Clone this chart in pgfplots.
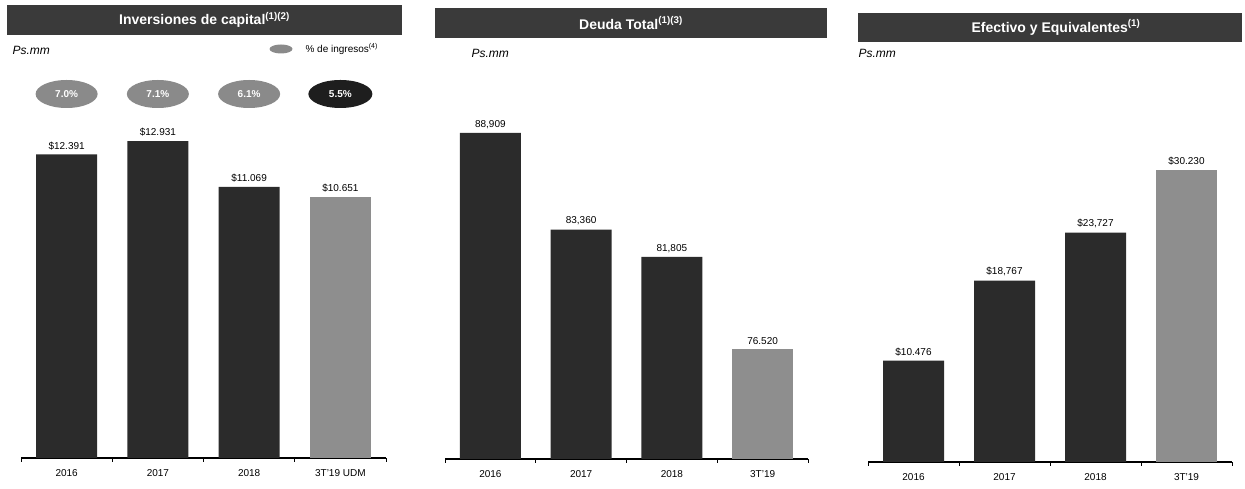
\documentclass[border=0pt]{standalone}
\usepackage{pgfplots}
\pgfplotsset{compat=1.18}
\usepackage{fontspec}
\setmainfont{Liberation Sans}
\usetikzlibrary{shapes.geometric}
\definecolor{bardark}{HTML}{2B2B2B}
\definecolor{barlight}{HTML}{8E8E8E}
\definecolor{titlebg}{HTML}{3A3A3A}
\definecolor{ellgray}{HTML}{8A8A8A}
\definecolor{ellblack}{HTML}{1E1E1E}

\pgfplotsset{
  panel/.style={
    scale only axis, anchor=south west,
    axis x line=bottom, axis y line=none,
    axis line style={-, black, line width=1.2pt},
    xmin=-0.5, xmax=3.5,
    xtick={0,1,2,3}, major tick length=0pt,
    extra x ticks={-0.5,0.5,1.5,2.5,3.5}, extra x tick labels={},
    extra x tick style={major tick length=4pt, tick align=outside, tick style={black, line width=1pt}},
    xticklabel style={font=\fontsize{10}{12}\selectfont, yshift=-8pt},
    ytick=\empty,
  },
  barplot/.style={
    ybar, bar width=61pt, bar shift=0pt, draw=none, fill=#1,
    nodes near coords, point meta=explicit symbolic,
    every node near coord/.append style={font=\fontsize{10}{12}\selectfont, black, anchor=south, yshift=1pt},
  },
}

\begin{document}
\begin{tikzpicture}[x=1pt,y=1pt]
\useasboundingbox (0,0) rectangle (1245,489);

% ---------- Panel 1: Inversiones de capital ----------
\fill[titlebg] (7,454) rectangle (402,484);
\node[text=white, font=\fontsize{14}{16}\selectfont\bfseries] at (204.5,469) {Inversiones de capital\textsuperscript{(1)(2)}};
\node[anchor=west, font=\fontsize{12}{14}\selectfont\itshape] at (9,439) {Ps.mm};
\node[ellipse, fill=ellgray, minimum width=23pt, minimum height=9pt, inner sep=0pt] at (281,440) {};
\node[anchor=west, font=\fontsize{10}{12}\selectfont] at (302,440) {\% de ingresos\textsuperscript{(4)}};

\begin{axis}[panel, at={(21pt,31pt)}, width=365pt, height=380pt,
  ymin=0, ymax=15510, clip=false,
  xticklabels={2016,2017,2018,3T'19 UDM}]
  \addplot[barplot=bardark] coordinates {(0,12391) [\$12.391] (1,12931) [\$12.931] (2,11069) [\$11.069]};
  \addplot[barplot=barlight] coordinates {(3,10651) [\$10.651]};
  \addplot[draw=none, mark=none, nodes near coords, point meta=explicit symbolic,
    every node near coord/.append style={ellipse, fill=ellgray, text=white, anchor=center,
      minimum width=62pt, minimum height=28pt, inner sep=0pt, font=\fontsize{10}{12}\selectfont\bfseries}]
    coordinates {(0,14857) [7.0\%] (1,14857) [7.1\%] (2,14857) [6.1\%]};
  \addplot[draw=none, mark=none, nodes near coords, point meta=explicit symbolic,
    every node near coord/.append style={ellipse, fill=ellblack, text=white, anchor=center,
      minimum width=64pt, minimum height=28pt, inner sep=0pt, font=\fontsize{10}{12}\selectfont\bfseries}]
    coordinates {(3,14857) [5.5\%]};
\end{axis}

% ---------- Panel 2: Deuda Total ----------
\fill[titlebg] (435,451) rectangle (827,481);
\node[text=white, font=\fontsize{14}{16}\selectfont\bfseries] at (631,466) {Deuda Total\textsuperscript{(1)(3)}};
\node[anchor=west, font=\fontsize{12}{14}\selectfont\itshape] at (468,436) {Ps.mm};

\begin{axis}[panel, at={(445pt,30pt)}, width=363pt, height=360pt,
  ymin=70211, ymax=90859, clip=true,
  xticklabels={2016,2017,2018,3T'19}]
  \addplot[barplot=bardark] coordinates {(0,88909) [88,909] (1,83360) [83,360] (2,81805) [81,805]};
  \addplot[barplot=barlight] coordinates {(3,76520) [76.520]};
\end{axis}

% ---------- Panel 3: Efectivo y Equivalentes ----------
\fill[titlebg] (858,447) rectangle (1242,476);
\node[text=white, font=\fontsize{14}{16}\selectfont\bfseries] at (1056,461.5) {Efectivo y Equivalentes\textsuperscript{(1)}};
\node[anchor=west, font=\fontsize{12}{14}\selectfont\itshape] at (855,436) {Ps.mm};

\begin{axis}[panel, at={(868pt,27pt)}, width=364pt, height=330pt,
  ymin=0, ymax=34126, clip=false,
  xticklabels={2016,2017,2018,3T'19}]
  \addplot[barplot=bardark] coordinates {(0,10476) [\$10.476] (1,18767) [\$18,767] (2,23727) [\$23,727]};
  \addplot[barplot=barlight] coordinates {(3,30230) [\$30.230]};
\end{axis}
\end{tikzpicture}
\end{document}
